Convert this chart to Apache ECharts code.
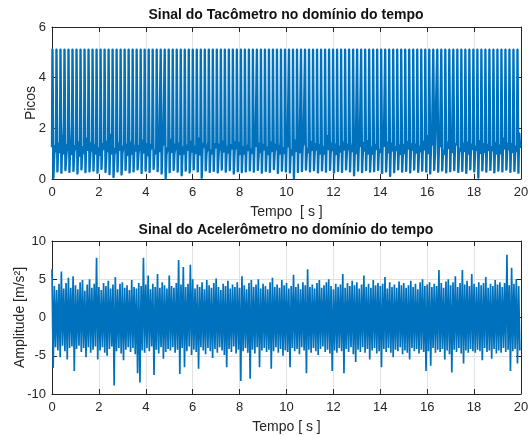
<!DOCTYPE html>
<html><head><meta charset="utf-8">
<script src="https://cdn.jsdelivr.net/npm/echarts@6/dist/echarts.min.js"></script>
<style>html,body{margin:0;padding:0;background:#fff}#c{width:528px;height:436px}</style>
</head><body><div id="c"></div>
<script>
// ---------- DATA ----------
const titles = ['Sinal do Tacômetro no domínio do tempo', 'Sinal do Acelerômetro no domínio do tempo'];
const xTicks = [0, 2, 4, 6, 8, 10, 12, 14, 16, 18, 20];
const tachTicks = [0, 2, 4, 6];
const accTicks = [-10, -5, 0, 5, 10];

// Tachometer: 117 pulses over 20 s, peak level, undershoot after each pulse, baseline noise (3 per pulse)
const tachPulseCount = 117;
const tachHigh = 5.1;
const tachLow = [
0.05,0.30,0.25,0.35,0.28,0.32,0.22,0.38,0.27,0.30,
0.33,0.25,0.40,0.28,0.20,0.08,0.30,0.18,0.36,0.26,
0.30,0.38,0.24,0.33,0.28,0.40,0.31,0.22,0.03,0.27,
0.36,0.29,0.15,0.33,0.26,0.38,0.30,0.05,0.34,0.28,
0.32,0.26,0.37,0.29,0.35,0.22,0.31,0.27,0.30,0.34,
0.29,0.36,0.25,0.32,0.28,0.39,0.24,0.33,0.30,0.26,
0.04,0.28,0.31,0.37,0.30,0.35,0.26,0.34,0.29,0.36,
0.25,0.32,0.28,0.38,0.30,0.15,0.33,0.27,0.35,0.29,
0.31,0.36,0.24,0.30,0.12,0.27,0.38,0.29,0.32,0.26,
0.37,0.28,0.33,0.30,0.22,0.36,0.29,0.34,0.26,0.31,
0.35,0.28,0.32,0.24,0.38,0.30,0.06,0.34,0.29,0.36,
0.26,0.33,0.30,0.37,0.28,0.32,0.25];
const tachBase = [
1.25,0.95,1.30, 1.10,1.40,1.05, 1.35,1.70,1.00, 2.20,0.90,1.35, 1.15,1.50,0.98,
2.10,1.05,1.30, 1.20,1.45,0.92, 1.38,1.08,1.25, 1.02,1.60,1.15, 1.30,0.97,1.42,
1.12,1.33,1.00, 1.45,1.05,1.22, 0.96,1.38,1.18, 1.28,1.02,1.48, 1.10,1.75,1.00,
1.35,0.93,1.20, 1.06,1.40,1.15, 1.50,1.00,1.28, 1.18,1.36,0.95, 1.33,1.10,1.44,
1.00,1.25,1.12, 1.42,0.97,1.30, 1.15,1.52,1.04, 1.27,1.08,1.38, 0.94,1.35,1.20,
1.40,1.12,1.00, 1.20,1.46,1.10, 1.05,1.30,1.42, 1.35,0.96,1.22, 1.12,1.55,1.06,
1.30,1.02,1.36, 1.18,1.40,0.98, 1.44,1.10,1.25, 1.00,1.32,1.15, 1.38,1.05,1.48,
1.08,1.28,1.02, 1.34,1.60,1.12, 0.97,1.22,1.40, 1.26,1.04,1.18, 1.45,1.14,1.00,
1.10,1.38,1.24, 1.32,0.95,1.36, 1.16,1.48,1.08, 1.40,1.02,1.28, 1.04,1.34,1.20,
1.30,1.10,1.46, 1.22,1.42,0.98, 1.36,1.06,1.26, 1.00,1.30,1.14, 1.42,1.18,1.02,
1.14,1.50,1.30, 1.28,0.98,1.40, 1.06,1.35,1.16, 1.38,1.12,1.24, 0.99,1.44,1.10,
1.32,1.04,1.36, 1.18,1.30,1.00, 1.46,1.08,1.22, 1.02,1.40,1.28, 1.34,1.14,0.96,
1.20,1.52,1.10, 1.40,1.85,1.05, 1.12,1.30,1.42, 1.36,0.98,1.20, 1.06,1.46,1.14,
1.30,1.10,1.38, 1.16,1.34,1.00, 1.44,1.04,1.26, 1.00,1.70,1.18, 1.32,1.12,1.40,
1.14,1.36,0.98, 1.40,1.06,1.28, 1.08,1.44,1.16, 1.34,1.00,1.36, 1.20,1.30,1.10,
1.46,1.14,1.02, 1.04,1.38,1.30, 1.28,1.08,1.42, 1.12,1.50,1.00, 1.38,1.02,1.24,
1.00,1.34,1.18, 1.42,1.16,1.06, 1.18,1.90,1.30, 1.30,1.04,1.44, 1.06,1.40,1.12,
1.36,1.10,1.26, 1.14,1.32,0.98, 1.44,1.06,1.34, 1.02,1.46,1.20, 1.32,1.12,1.38,
1.16,1.36,1.04, 1.40,1.00,1.28, 1.10,1.48,1.16, 1.34,1.70,1.02, 1.20,1.30,1.40,
1.46,1.08,1.14, 1.04,1.38,1.30, 1.30,1.12,0.98, 1.18,1.44,1.22, 1.38,1.65,1.06,
1.08,1.32,1.36, 1.42,1.02,1.20, 1.12,1.40,1.10, 1.34,1.14,1.44, 1.00,1.36,1.18,
1.40,1.06,1.28, 1.16,1.50,1.02, 1.30,1.10,1.38, 1.06,1.34,1.14, 1.44,1.04,1.26,
1.14,1.42,1.00, 1.36,1.08,1.32, 1.02,1.60,1.20, 1.32,1.12,1.40, 1.18,1.38,1.06,
1.40,1.04,1.28, 1.10,1.80,1.22];

// Accelerometer: envelope read every 0.1 s (upper excursion at t, lower at t+0.05)
const accStep = 0.1;
const accMax = [
6.3,4.1,3.6,4.4,6.0,3.8,4.5,5.2,3.9,5.4,
4.2,3.7,4.6,4.9,3.5,4.3,5.0,3.9,4.4,7.8,
4.0,3.6,4.5,4.1,4.8,3.8,4.3,5.3,3.7,4.4,
4.6,3.9,4.2,3.6,4.9,4.0,3.8,4.5,4.1,7.8,
4.3,5.5,3.7,4.4,4.0,5.7,3.9,4.6,4.2,3.8,
5.5,4.1,3.9,4.5,7.5,4.3,6.6,4.0,4.4,6.9,
5.0,3.8,4.3,4.0,4.6,3.7,4.9,4.2,3.9,4.5,
5.1,4.0,3.6,4.4,4.1,4.8,3.8,4.3,4.0,4.6,
3.9,5.4,4.2,3.7,4.5,4.9,4.0,4.3,5.0,3.8,
4.4,4.1,3.7,4.6,5.2,4.0,4.3,3.9,4.9,4.2,
4.5,3.8,4.1,5.6,4.0,4.4,3.7,4.6,4.2,6.3,
4.0,4.3,3.8,4.5,4.9,3.9,4.2,4.6,5.0,4.1,
3.7,4.4,4.0,4.3,5.7,3.9,4.5,4.1,4.8,4.2,
4.6,3.8,4.3,5.5,4.0,4.4,3.9,4.9,4.2,4.5,
4.1,4.4,5.3,3.8,4.6,4.0,4.3,3.9,4.7,4.2,
4.5,3.9,4.2,4.8,4.0,4.4,3.7,4.6,5.0,4.1,
4.3,4.6,4.0,4.4,4.1,6.2,4.5,3.9,4.7,5.0,
4.2,4.6,5.4,4.0,4.5,6.2,4.3,4.8,4.1,5.7,
4.4,4.0,4.6,4.2,4.5,5.3,3.9,4.4,4.1,4.9,
4.3,4.6,4.0,4.5,8.2,4.2,6.5,4.4,5.0,4.1];
const accMin = [
-6.6,-3.9,-4.3,-5.2,-3.7,-4.4,-5.5,-4.0,-3.8,-7.0,
-4.1,-3.7,-4.5,-4.0,-5.2,-3.9,-4.6,-4.2,-3.8,-5.5,
-4.3,-3.9,-4.6,-5.0,-4.1,-3.8,-8.9,-4.4,-4.0,-4.7,
-5.6,-4.2,-3.9,-4.5,-4.0,-4.8,-7.3,-8.5,-4.3,-4.6,
-4.0,-4.4,-3.8,-7.5,-4.2,-4.7,-3.9,-5.4,-4.5,-4.1,
-4.3,-3.9,-4.6,-4.2,-7.4,-4.0,-6.5,-4.4,-3.8,-4.9,
-4.2,-4.5,-6.7,-3.9,-4.3,-4.8,-4.0,-4.4,-5.3,-4.1,
-4.6,-3.9,-4.3,-4.9,-6.5,-4.1,-4.5,-3.8,-4.7,-4.2,
-8.3,-4.4,-4.0,-4.6,-8.0,-4.2,-4.7,-3.9,-6.5,-4.3,
-4.0,-4.5,-4.2,-6.7,-4.4,-3.9,-4.6,-4.1,-5.0,-4.3,
-4.5,-6.5,-4.0,-4.4,-4.1,-4.8,-3.9,-4.3,-7.3,-4.2,
-4.6,-4.0,-4.4,-4.9,-4.1,-3.8,-4.5,-4.2,-4.7,-7.0,
-4.3,-4.6,-4.0,-4.4,-7.3,-4.1,-4.5,-3.9,-4.8,-5.8,
-4.2,-4.5,-3.9,-4.6,-4.1,-5.5,-4.3,-4.0,-4.7,-4.4,
-6.5,-4.1,-4.5,-4.0,-4.6,-5.2,-4.2,-4.4,-3.9,-4.8,
-4.3,-4.6,-5.5,-4.0,-4.4,-4.1,-4.7,-4.2,-4.5,-7.0,
-4.4,-6.3,-4.0,-4.6,-4.2,-4.5,-4.1,-5.5,-4.3,-4.8,
-7.2,-4.2,-4.5,-4.0,-4.7,-6.0,-4.3,-4.6,-4.1,-4.4,
-4.6,-4.2,-4.4,-5.6,-4.0,-4.5,-4.3,-5.4,-4.1,-4.7,
-4.3,-4.6,-4.0,-4.5,-4.2,-7.0,-4.4,-4.1,-6.0,-4.3];

// ---------- BUILD ----------
const tachPeriod = 20 / tachPulseCount;
const tachData = [];
for (let k = 0; k < tachPulseCount; k++) {
  const t0 = k * tachPeriod;
  tachData.push([t0, tachBase[3*k]]);
  tachData.push([t0 + 0.02, tachHigh]);
  tachData.push([t0 + 0.045, tachHigh]);
  tachData.push([t0 + 0.06, tachLow[k]]);
  tachData.push([t0 + 0.095, tachBase[3*k+1]]);
  tachData.push([t0 + 0.135, tachBase[3*k+2]]);
}
const accData = [];
for (let i = 0; i < accMax.length; i++) {
  accData.push([i * accStep, accMax[i]]);
  accData.push([i * accStep + accStep / 2, accMin[i]]);
}

const FONT = '"Liberation Sans", Arial, Helvetica, sans-serif';
const AX = '#262626';
const GRIDC = '#e2e2e2';
const BLUE = '#0072BD';

function xMain(gi, name, gap) {
  return { gridIndex: gi, type: 'value', min: xTicks[0], max: xTicks[xTicks.length-1], interval: 2, position: 'bottom',
    axisLine: { show: true, onZero: false, lineStyle: { color: AX, width: 1 } },
    axisTick: { show: true, inside: true, length: 5, lineStyle: { color: AX } },
    axisLabel: { color: AX, fontSize: 13, fontFamily: FONT, margin: 7 },
    splitLine: { show: true, lineStyle: { color: GRIDC, width: 1 } },
    name: name, nameLocation: 'middle', nameGap: gap, nameMoveOverlap: false,
    nameTextStyle: { color: AX, fontSize: 14, fontFamily: FONT } };
}
function xTop(gi) {
  return { gridIndex: gi, type: 'value', min: xTicks[0], max: xTicks[xTicks.length-1], interval: 2, position: 'top',
    axisLine: { show: true, onZero: false, lineStyle: { color: AX, width: 1 } },
    axisTick: { show: true, inside: true, length: 5, lineStyle: { color: AX } },
    axisLabel: { show: false }, splitLine: { show: false } };
}
function yMain(gi, ticks, name, gap) {
  return { gridIndex: gi, type: 'value', min: ticks[0], max: ticks[ticks.length-1], interval: ticks[1]-ticks[0], position: 'left',
    axisLine: { show: true, onZero: false, lineStyle: { color: AX, width: 1 } },
    axisTick: { show: true, inside: true, length: 5, lineStyle: { color: AX } },
    axisLabel: { color: AX, fontSize: 13, fontFamily: FONT, margin: 6 },
    splitLine: { show: true, lineStyle: { color: GRIDC, width: 1 } },
    name: name, nameLocation: 'middle', nameGap: gap, nameMoveOverlap: false,
    nameTextStyle: { color: AX, fontSize: 14, fontFamily: FONT } };
}
function yRight(gi, ticks) {
  return { gridIndex: gi, type: 'value', min: ticks[0], max: ticks[ticks.length-1], interval: ticks[1]-ticks[0], position: 'right',
    axisLine: { show: true, onZero: false, lineStyle: { color: AX, width: 1 } },
    axisTick: { show: true, inside: true, length: 5, lineStyle: { color: AX } },
    axisLabel: { show: false }, splitLine: { show: false } };
}

const chart = echarts.init(document.getElementById('c'), null, { renderer: 'canvas' });
chart.setOption({
  animation: false,
  backgroundColor: '#ffffff',
  grid: [
    { left: 52, right: 7, top: 27, height: 152, containLabel: false, outerBoundsMode: 'none' },
    { left: 52, right: 7, top: 241, height: 153, containLabel: false, outerBoundsMode: 'none' }
  ],
  xAxis: [ xMain(0, 'Tempo  [ s ]', 26), xTop(0), xMain(1, 'Tempo [ s ]', 26), xTop(1) ],
  yAxis: [ yMain(0, tachTicks, 'Picos', 14), yRight(0, tachTicks), yMain(1, accTicks, 'Amplitude [m/s²]', 25), yRight(1, accTicks) ],
  graphic: [
    { type: 'text', style: { text: titles[0], textAlign: 'center', textVerticalAlign: 'middle', font: 'bold 14px ' + FONT, fill: '#111' }, position: [286, 15] },
    { type: 'text', style: { text: titles[1], textAlign: 'center', textVerticalAlign: 'middle', font: 'bold 14px ' + FONT, fill: '#111' }, position: [286, 230] }
  ],
  series: [
    { type: 'line', xAxisIndex: 0, yAxisIndex: 0, data: tachData, showSymbol: false, symbol: 'none',
      lineStyle: { color: BLUE, width: 2.4, join: 'round' }, itemStyle: { color: BLUE }, clip: true, z: 3 },
    { type: 'line', xAxisIndex: 2, yAxisIndex: 2, data: accData, showSymbol: false, symbol: 'none',
      lineStyle: { color: BLUE, width: 1.7, join: 'bevel' }, itemStyle: { color: BLUE }, clip: true, z: 3 }
  ]
});
</script></body></html>
